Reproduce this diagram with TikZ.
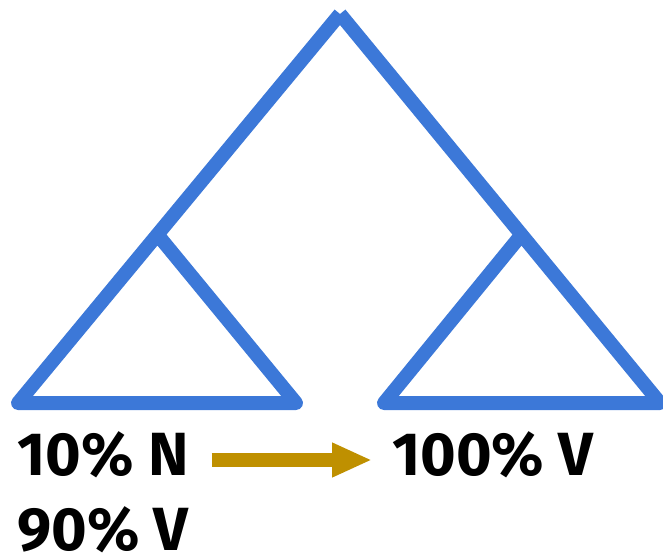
\documentclass[tikz,border=0pt]{standalone}
\usepackage{fontspec}
\setmainfont{Fira Sans}
\usetikzlibrary{arrows.meta, positioning}
\definecolor{treeblue}{RGB}{60,120,216}
\definecolor{shiftgold}{RGB}{191,144,0}

\begin{document}
\begin{tikzpicture}[x=1pt, y=-1pt,
    branch/.style={draw=treeblue, line width=14pt, line join=round},
    share/.style={font=\fontsize{61}{61}\selectfont\bfseries, inner sep=0pt, anchor=base west},
    flow/.style={draw=shiftgold, line width=14pt, -{Triangle[length=40pt, width=32pt]}}]
  \useasboundingbox (0,0) rectangle (663,553);

  %% Tree: root splits into two subtrees
  \draw[branch] (340,14) -- (18,403) -- (296,403) -- (157,234);
  \draw[branch] (340,14) -- (660,403) -- (384,403) -- (522,234);

  %% Composition labels
  \node[share] (lblN) at (17,475) {10\% N};
  \node[share] (lblV) at (17,550) {90\% V};
  \node[share] (lblR) at (392,475) {100\% V};

  %% Change between the subtrees
  \draw[flow] ([shift={(23pt,15pt)}]lblN.base east) -- ([shift={(-20pt,15pt)}]lblR.base west);
\end{tikzpicture}
\end{document}
